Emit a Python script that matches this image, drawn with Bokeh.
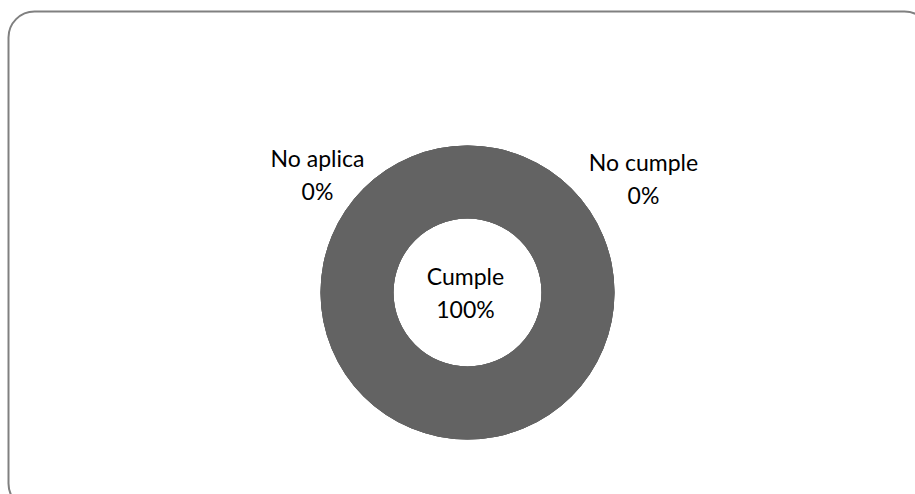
import numpy as np
from bokeh.plotting import figure
from bokeh.models import Range1d, BoxAnnotation, ColumnDataSource
from bokeh.core.properties import value
from bokeh.embed import file_html
from bokeh.resources import INLINE

categories = ["Cumple", "No cumple", "No aplica"]
values = [100, 0, 0]
colors = ["#636363", "#636363", "#636363"]

W, H = 915, 494
p = figure(width=W, height=H, output_backend="svg", toolbar_location=None,
           x_range=Range1d(0, W), y_range=Range1d(0, H), min_border=0)
p.axis.visible = False
p.grid.visible = False
p.outline_line_color = None
p.background_fill_color = "white"
p.border_fill_color = "white"

# frame
p.add_layout(BoxAnnotation(left=8, right=930, top=H - 11, bottom=-15,
                           fill_color=None, fill_alpha=0, line_color="#808080",
                           line_alpha=1.0, line_width=2, border_radius=26))

cx, cy = 467, H - 292
outer_r, inner_r = 147, 74
total = float(sum(values))
frac = np.array(values, dtype=float) / total
ends = np.cumsum(frac)
starts = ends - frac
# start at 12 o'clock, clockwise
start_ang = np.pi / 2 - ends * 2 * np.pi
end_ang = np.pi / 2 - starts * 2 * np.pi
src = ColumnDataSource(dict(cat=categories, start=start_ang, end=end_ang, color=colors))
p.annular_wedge(x=cx, y=cy, inner_radius=inner_r, outer_radius=outer_r,
                start_angle="start", end_angle="end", fill_color="color",
                line_color=None, source=src)

pcts = [f"{round(v / total * 100)}%" for v in values]
label_x = [465, 643, 317]
label_y = [H - 275, H - 161, H - 157]
names_src = ColumnDataSource(dict(x=label_x, y=label_y, t=categories))
pct_src = ColumnDataSource(dict(x=label_x, y=[y - 33 for y in label_y], t=pcts))
for s in (names_src, pct_src):
    p.text(x="x", y="y", text="t", source=s, text_align="center",
           text_baseline="middle", text_font=value("Lato"),
           text_font_size="23px", text_color="black")

open("out.html", "w").write(file_html(p, INLINE))
